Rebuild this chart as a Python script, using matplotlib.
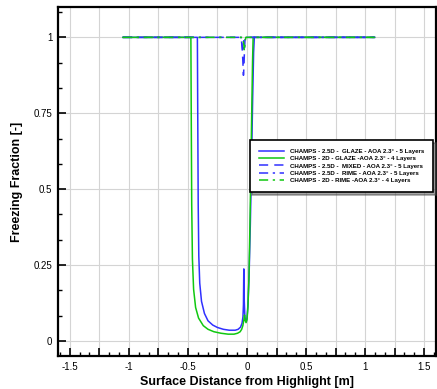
import matplotlib
matplotlib.use('Agg')
import matplotlib.pyplot as plt
from matplotlib.ticker import MultipleLocator, FuncFormatter

plt.rcParams['font.family'] = ['Liberation Sans', 'DejaVu Sans']

# CHAMPS - 2.5D - GLAZE
glaze_25d_x = [-1.05, -0.42, -0.417, -0.413, -0.408, -0.40, -0.385, -0.36, -0.33, -0.29, -0.25,
               -0.20, -0.15, -0.10, -0.075, -0.055, -0.042, -0.034, -0.030, -0.027, -0.023,
               -0.018, -0.012, -0.006, 0.0, 0.008, 0.018, 0.028, 0.038, 0.048, 0.056, 0.062, 1.08]
glaze_25d_y = [1.0, 1.0, 0.75, 0.45, 0.28, 0.19, 0.13, 0.09, 0.066, 0.052, 0.044,
               0.038, 0.035, 0.035, 0.038, 0.045, 0.058, 0.08, 0.12, 0.237, 0.13,
               0.08, 0.065, 0.063, 0.075, 0.12, 0.22, 0.38, 0.58, 0.8, 0.95, 1.0, 1.0]

# CHAMPS - 2D - GLAZE
glaze_2d_x = [-1.05, -0.475, -0.472, -0.468, -0.462, -0.452, -0.435, -0.41, -0.37, -0.33, -0.28,
              -0.22, -0.16, -0.11, -0.08, -0.058, -0.045, -0.035, -0.027, -0.021, -0.015,
              -0.008, 0.0, 0.008, 0.016, 0.024, 0.032, 0.04, 0.047, 0.052, 1.08]
glaze_2d_y = [1.0, 1.0, 0.75, 0.45, 0.27, 0.17, 0.11, 0.075, 0.05, 0.038, 0.03,
              0.025, 0.022, 0.022, 0.025, 0.03, 0.038, 0.05, 0.068, 0.085, 0.068,
              0.06, 0.07, 0.11, 0.2, 0.36, 0.55, 0.75, 0.92, 1.0, 1.0]

# CHAMPS - 2.5D - MIXED
mixed_25d_x = [-1.05, -0.05, -0.042, -0.036, -0.030, -0.026, -0.022, -0.016, 1.08]
mixed_25d_y = [1.0, 1.0, 0.97, 0.93, 0.875, 0.9, 0.95, 1.0, 1.0]

# CHAMPS - 2.5D - RIME
rime_25d_x = [-1.05, -0.05, -0.042, -0.036, -0.03, -0.024, 1.08]
rime_25d_y = [1.0, 1.0, 0.975, 0.96, 0.98, 1.0, 1.0]

# CHAMPS - 2D - RIME
rime_2d_x = [-1.05, -0.035, -0.028, -0.022, -0.016, -0.01, 1.08]
rime_2d_y = [1.0, 1.0, 0.98, 0.955, 0.985, 1.0, 1.0]

labels = ['CHAMPS - 2.5D -  GLAZE - AOA 2.3\u00b0 - 5 Layers',
          'CHAMPS - 2D - GLAZE -AOA 2.3\u00b0 - 4 Layers',
          'CHAMPS - 2.5D -  MIXED - AOA 2.3\u00b0 - 5 Layers',
          'CHAMPS - 2.5D -  RIME - AOA 2.3\u00b0 - 5 Layers',
          'CHAMPS - 2D - RIME -AOA 2.3\u00b0 - 4 Layers']

blue = '#3030ff'
green = '#10c810'

fig = plt.figure(figsize=(4.37, 3.89), dpi=100)
ax = fig.add_axes([0.1327, 0.0848, 0.865, 0.8972])

ax.plot(glaze_25d_x, glaze_25d_y, color=blue, lw=1.1, label=labels[0])
ax.plot(glaze_2d_x, glaze_2d_y, color=green, lw=1.1, label=labels[1])
ax.plot(mixed_25d_x, mixed_25d_y, color=blue, lw=1.1, ls=(0, (6, 4)), label=labels[2])
ax.plot(rime_25d_x, rime_25d_y, color=blue, lw=1.1, ls=(0, (6, 3, 1.5, 3)), label=labels[3])
ax.plot(rime_2d_x, rime_2d_y, color=green, lw=1.1, ls=(0, (6, 3, 1.5, 3)), label=labels[4])

ax.set_xlim(-1.6, 1.6)
ax.set_ylim(-0.05, 1.1)

ax.xaxis.set_major_locator(MultipleLocator(0.25))
ax.xaxis.set_minor_locator(MultipleLocator(1 / 12))
ax.yaxis.set_major_locator(MultipleLocator(0.25))
ax.yaxis.set_minor_locator(MultipleLocator(1 / 12))


def xfmt(v, pos):
    if abs(round(v * 2) - v * 2) < 1e-6:
        return '%g' % round(v, 2)
    return ''


ax.xaxis.set_major_formatter(FuncFormatter(xfmt))
ax.yaxis.set_major_formatter(FuncFormatter(lambda v, p: '%g' % round(v, 2)))

ax.tick_params(which='major', direction='in', length=6, width=1.2, labelsize=7, pad=4)
ax.tick_params(which='minor', direction='in', length=3, width=1.0)
ax.tick_params(top=False, right=False)

ax.grid(True, which='major', color='#d4d4d4', lw=0.8)
ax.set_axisbelow(True)
for s in ax.spines.values():
    s.set_linewidth(1.6)

ax.set_xlabel('Surface Distance from Highlight [m]', fontsize=9, fontweight='bold', labelpad=3)
ax.set_ylabel('Freezing Fraction [-]', fontsize=9, fontweight='bold', labelpad=8)

leg = ax.legend(loc='upper right', bbox_to_anchor=(0.992, 0.619), borderaxespad=0,
                prop={'size': 4.4, 'weight': 'bold'}, fancybox=False, shadow=True,
                handlelength=4.2, labelspacing=0.32, borderpad=1.45, handletextpad=0.9,
                framealpha=1)
leg.get_frame().set_edgecolor('black')
leg.get_frame().set_linewidth(1.2)

fig.savefig('out.png', dpi=100)
